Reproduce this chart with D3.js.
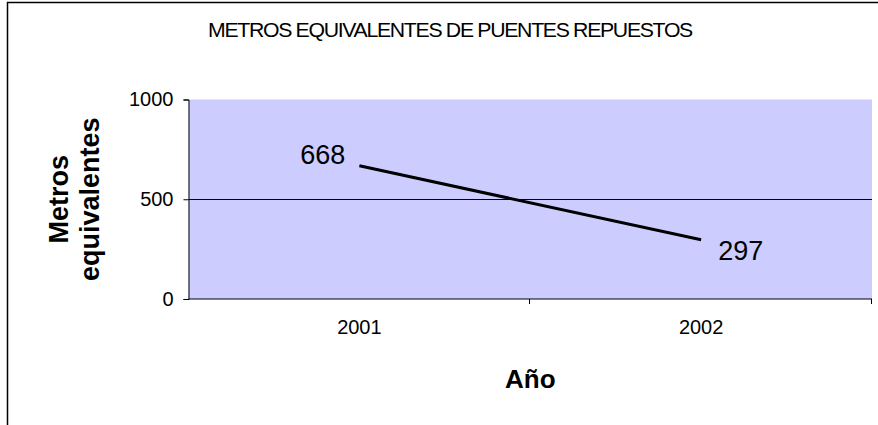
<!DOCTYPE html>
<html>
<head>
<meta charset="utf-8">
<script src="https://cdn.jsdelivr.net/npm/d3@7"></script>
<style>
  body { margin: 0; background: #fff; }
  svg { display: block; font-family: Arial, "Liberation Sans", sans-serif; }
</style>
</head>
<body>
<div id="chart"></div>
<script>
// chart data
const years = ['2001', '2002'];
const metros = [668, 297];
const yTicks = [0, 500, 1000];

const title = 'METROS EQUIVALENTES DE PUENTES REPUESTOS';
const yTitle = ['Metros', 'equivalentes'];
const xTitle = 'Año';

const width = 878, height = 425;
const plot = { left: 188.5, right: 872, top: 99.5, bottom: 299 };

const svg = d3.select('#chart').append('svg')
  .attr('width', width)
  .attr('height', height);

// outer frame (cut at right and bottom)
svg.append('path')
  .attr('d', 'M7.5,' + height + 'V2.5H' + width)
  .attr('fill', 'none')
  .attr('stroke', '#000')
  .attr('stroke-width', 1.5);

const x = d3.scaleBand()
  .domain(years)
  .range([plot.left, plot.right]);

const y = d3.scaleLinear()
  .domain([0, 1000])
  .range([plot.bottom, plot.top]);

// plot background
svg.append('rect')
  .attr('x', plot.left)
  .attr('y', plot.top)
  .attr('width', plot.right - plot.left)
  .attr('height', plot.bottom - plot.top)
  .attr('fill', '#ccccff');

// gridlines (only inner ones)
svg.selectAll('.grid')
  .data(yTicks.filter((d) => d > 0 && d < 1000))
  .enter()
  .append('line')
  .attr('class', 'grid')
  .attr('x1', plot.left)
  .attr('x2', plot.right)
  .attr('y1', (d) => Math.round(y(d)) + 0.5)
  .attr('y2', (d) => Math.round(y(d)) + 0.5)
  .attr('stroke', '#000')
  .attr('stroke-width', 1);

// y axis
const yAxis = svg.append('g')
  .attr('transform', 'translate(' + plot.left + ',0)')
  .call(d3.axisLeft(y).tickValues(yTicks).tickFormat(d3.format('d')).tickSize(5).tickPadding(10));
yAxis.select('.domain').attr('stroke', '#000');
yAxis.selectAll('text')
  .attr('font-size', 20)
  .attr('font-family', 'Arial, "Liberation Sans", sans-serif')
  .attr('fill', '#000');

// x axis: ticks at category boundaries
const xAxisG = svg.append('g')
  .attr('transform', 'translate(0,' + plot.bottom + ')');
xAxisG.append('line')
  .attr('x1', plot.left)
  .attr('x2', plot.right)
  .attr('stroke', '#000');
const bounds = years.map((d) => x(d)).concat([x(years[years.length - 1]) + x.bandwidth()]);
xAxisG.selectAll('.xtick')
  .data(bounds.slice(1))
  .enter()
  .append('line')
  .attr('class', 'xtick')
  .attr('x1', (d) => Math.round(d) - 0.5)
  .attr('x2', (d) => Math.round(d) - 0.5)
  .attr('y1', 0)
  .attr('y2', 5)
  .attr('stroke', '#000');
xAxisG.selectAll('.xlabel')
  .data(years)
  .enter()
  .append('text')
  .attr('class', 'xlabel')
  .attr('x', (d) => x(d) + x.bandwidth() / 2)
  .attr('y', 35)
  .attr('text-anchor', 'middle')
  .attr('font-size', 20)
  .text((d) => d);

// the line
const line = d3.line()
  .x((d, i) => x(years[i]) + x.bandwidth() / 2)
  .y((d) => y(d));

svg.append('path')
  .datum(metros)
  .attr('d', line)
  .attr('fill', 'none')
  .attr('stroke', '#000')
  .attr('stroke-width', 3);

// value labels
svg.selectAll('.vlabel')
  .data(metros)
  .enter()
  .append('text')
  .attr('class', 'vlabel')
  .attr('x', (d, i) => x(years[i]) + x.bandwidth() / 2 + (i === 0 ? -14 : 17))
  .attr('y', (d, i) => y(d) + (i === 0 ? -2 : 20))
  .attr('text-anchor', (d, i) => i === 0 ? 'end' : 'start')
  .attr('font-size', 27)
  .text((d) => d);

// titles
svg.append('text')
  .attr('x', 450)
  .attr('y', 37)
  .attr('text-anchor', 'middle')
  .attr('font-size', 19.5)
  .attr('letter-spacing', -1.2)
  .attr('textLength', 484)
  .attr('lengthAdjust', 'spacingAndGlyphs')
  .text(title);

svg.append('text')
  .attr('transform', 'translate(73,' + (plot.top + plot.bottom) / 2 + ') rotate(-90)')
  .attr('text-anchor', 'middle')
  .attr('font-size', 27)
  .attr('font-weight', 'bold')
  .selectAll('tspan')
  .data(yTitle)
  .enter()
  .append('tspan')
  .attr('x', 0)
  .attr('dy', (d, i) => i === 0 ? '-0.2em' : '1.15em')
  .text((d) => d);

svg.append('text')
  .attr('x', (plot.left + plot.right) / 2)
  .attr('y', 388)
  .attr('text-anchor', 'middle')
  .attr('font-size', 26)
  .attr('font-weight', 'bold')
  .text(xTitle);
</script>
</body>
</html>
